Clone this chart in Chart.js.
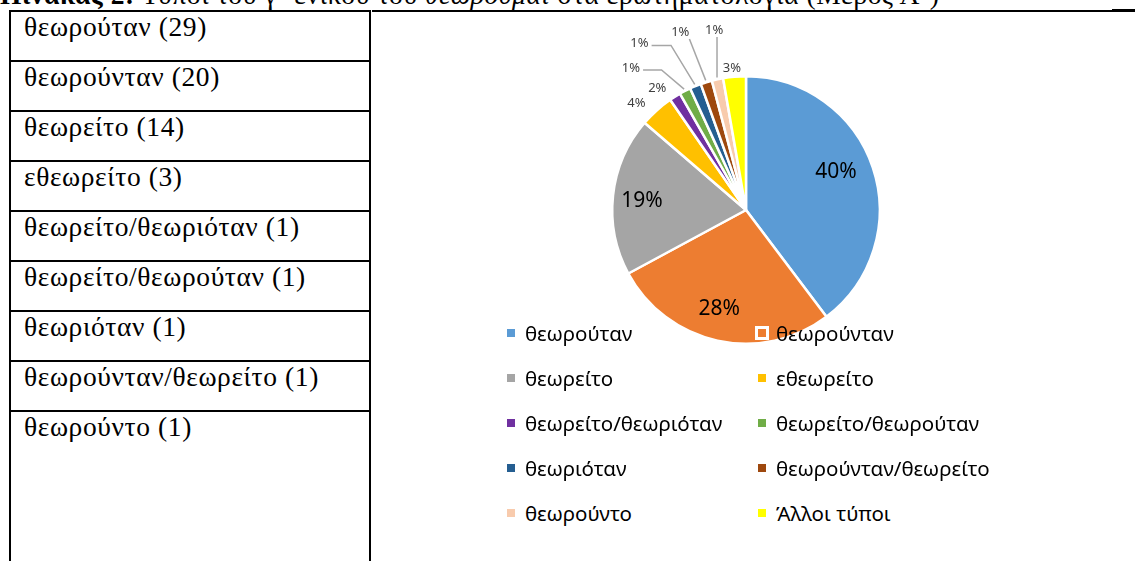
<!DOCTYPE html>
<html>
<head>
<meta charset="utf-8">
<script src="https://cdn.jsdelivr.net/npm/chart.js@4.4.0/dist/chart.umd.min.js"></script>
<style>
  body { margin: 0; width: 1135px; height: 561px; overflow: hidden; background: #fff; position: relative; font-family: "Liberation Serif", serif; }
  .title { position: absolute; left: 0; top: -19px; font-size: 27.5px; letter-spacing: 0.6px; line-height: 1; white-space: nowrap; color: #000; }
  .rule { position: absolute; top: 10px; height: 1.5px; background: #000; }
  .tbl { position: absolute; left: 9px; top: 10px; width: 358px; height: 560px; border: 2px solid #000; border-bottom: none; }
  .row { position: absolute; left: 0; width: 100%; height: 50px; border-top: 2px solid #000; }
  .row:first-child { border-top: none; }
  .row span { position: absolute; left: 13px; top: 1px; font-size: 27.5px; letter-spacing: 0.6px; line-height: 1; white-space: nowrap; }
  #wrap { position: absolute; left: 380px; top: 14px; width: 730px; height: 400px; }
  .leg { position: absolute; font-family: "Noto Sans", sans-serif; font-size: 20.5px; line-height: 24px; height: 24px; white-space: nowrap; color: #000; }
  .leg i { position: absolute; left: 0; top: 8px; width: 8px; height: 8px; }
  .leg i.sel { left: -3px; top: 5px; border: 3px solid #fff; }
  .leg b { position: absolute; left: 18px; top: 0; font-weight: normal; }
</style>
</head>
<body>
<div class="title"><b>Πίνακας 2:</b> Τύποι του γ΄ ενικού του <i>θεωρούμαι</i> στα ερωτηματολόγια (Μέρος Α΄)</div>
<div class="rule" style="left:372px;width:740px"></div>
<div class="rule" style="left:1112px;width:23px;height:3px;top:9px"></div>
<div class="tbl" id="tbl"></div>
<div id="wrap"><canvas id="pie"></canvas></div>
<div id="legend"></div>

<script>
const categories = ['θεωρούταν', 'θεωρούνταν', 'θεωρείτο', 'εθεωρείτο', 'θεωρείτο/θεωριόταν',
  'θεωρείτο/θεωρούταν', 'θεωριόταν', 'θεωρούνταν/θεωρείτο', 'θεωρούντο', 'Άλλοι τύποι'];
const counts = [29, 20, 14, 3, 1, 1, 1, 1, 1, 2];
const pctText = ['40%', '28%', '19%', '4%', '2%', '1%', '1%', '1%', '1%', '3%'];
const colors = ['#5B9BD5', '#ED7D31', '#A5A5A5', '#FFC000', '#7030A0',
  '#70AD47', '#255E91', '#9E480E', '#F8CBAD', '#FFFF00'];

// where each percentage sits: inside = fraction of radius, otherwise gap beyond the edge
const labelLayout = [
  { inside: 0.73, da: -4.5 }, { inside: 0.77, da: 2.7 }, { inside: 0.78, da: -1.2 },
  { gap: 19, da: -3.9 }, { gap: 17, da: -4 },
  { gap: 49, da: -11.9, leader: true }, { gap: 64, da: -10.4, leader: true },
  { gap: 56, da: -3, leader: true }, { gap: 49, da: 2.3, leader: true },
  { gap: 9, da: -0.7 }
];

// table on the left (the first nine forms with their counts)
const tbl = document.getElementById('tbl');
for (let i = 0; i < 9; i++) {
  const row = document.createElement('div');
  row.className = 'row';
  row.style.top = (i * 50 - (i > 0 ? 2 : 0)) + 'px';
  row.innerHTML = `<span>${categories[i]} (${counts[i]})</span>`;
  tbl.appendChild(row);
}

const pieLabels = {
  id: 'pieLabels',
  afterDatasetsDraw(chart) {
    const ctx = chart.ctx;
    const meta = chart.getDatasetMeta(0);
    meta.data.forEach((arc, i) => {
      const p = arc.getProps(['x', 'y', 'startAngle', 'endAngle', 'outerRadius'], true);
      const mid = (p.startAngle + p.endAngle) / 2;
      const lay = labelLayout[i];
      const a = mid + lay.da * Math.PI / 180;
      ctx.save();
      ctx.textAlign = 'center';
      ctx.textBaseline = 'middle';
      if (lay.inside) {
        const r = p.outerRadius * lay.inside;
        ctx.font = '21px "Noto Sans"';
        ctx.fillStyle = '#000';
        ctx.fillText(pctText[i], p.x + Math.cos(a) * r, p.y + Math.sin(a) * r);
      } else {
        const r = p.outerRadius + lay.gap;
        const lx = p.x + Math.cos(a) * r, ly = p.y + Math.sin(a) * r;
        ctx.font = '13px "Noto Sans"';
        ctx.fillStyle = '#404040';
        ctx.fillText(pctText[i], lx, ly);
        if (lay.leader) {
          const w = ctx.measureText(pctText[i]).width;
          const ax = p.x + Math.cos(mid) * (p.outerRadius + 2);
          const ay = p.y + Math.sin(mid) * (p.outerRadius + 2);
          ctx.strokeStyle = '#A6A6A6';
          ctx.lineWidth = 1.5;
          ctx.beginPath();
          if (ax - (lx + w / 2) > 25) {
            const sx = lx + w / 2 + 3, sy = ly + 2;
            ctx.moveTo(sx, sy);
            ctx.lineTo(sx + 0.45 * (ax - sx), sy);
            ctx.lineTo(ax, ay);
          } else {
            const sx = Math.min(Math.max(ax, lx - w / 2), lx + w / 2);
            ctx.moveTo(sx, ly + 7);
            ctx.lineTo(ax, ay);
          }
          ctx.stroke();
        }
      }
      ctx.restore();
    });
  }
};

const chart = new Chart(document.getElementById('pie'), {
  type: 'pie',
  data: {
    labels: categories,
    datasets: [{
      data: counts,
      backgroundColor: colors,
      borderColor: '#fff',
      borderWidth: 2.5
    }]
  },
  options: {
    responsive: true,
    maintainAspectRatio: false,
    animation: false,
    layout: { padding: { left: 231, right: 229, top: 61, bottom: 69 } },
    plugins: {
      legend: { display: false },
      tooltip: { enabled: false }
    }
  },
  plugins: [pieLabels]
});

// two-column legend built from the chart's own legend items
const items = Chart.overrides.pie.plugins.legend.labels.generateLabels(chart);
const legend = document.getElementById('legend');
const colX = [507, 758];
items.forEach((it, i) => {
  const d = document.createElement('div');
  d.className = 'leg';
  d.style.left = colX[i % 2] + 'px';
  d.style.top = (333 + Math.floor(i / 2) * 45 - 12) + 'px';
  d.innerHTML = `<i class="${i === 1 ? 'sel' : ''}" style="background:${it.fillStyle}"></i><b>${it.text}</b>`;
  legend.appendChild(d);
});
</script>
</body>
</html>
